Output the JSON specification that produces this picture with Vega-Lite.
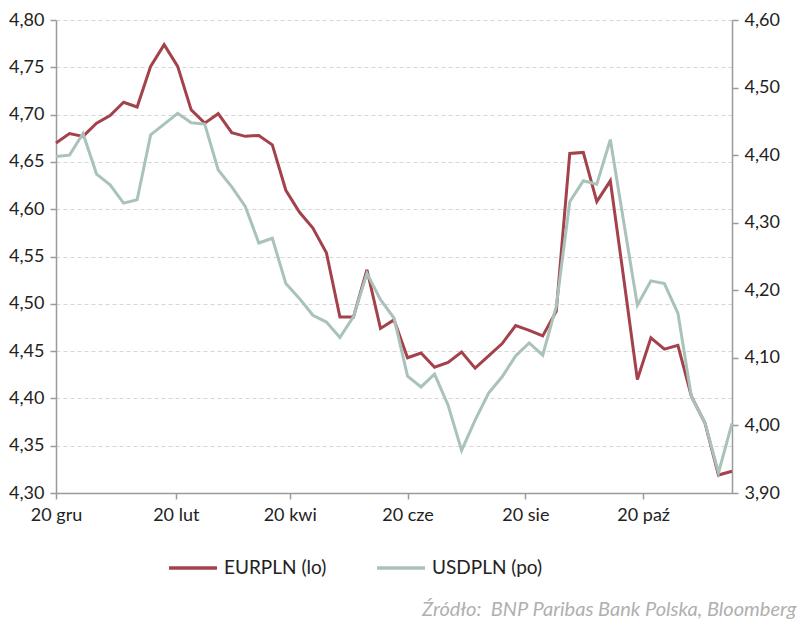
{
  "$schema": "https://vega.github.io/schema/vega-lite/v6.json",
  "width": 676,
  "height": 473,
  "autosize": {"type": "none"},
  "padding": {"left": 56, "top": 20, "right": 68, "bottom": 141},
  "background": "white",
  "config": {
    "font": "Lato",
    "view": {"stroke": null},
    "axis": {
      "labelFont": "Lato",
      "labelFontSize": 18,
      "labelColor": "#222222",
      "domainColor": "#9a9a9a",
      "domainWidth": 1.5,
      "tickColor": "#9a9a9a",
      "tickWidth": 1.5,
      "tickSize": 6,
      "title": null
    },
    "title": {"font": "Lato"}
  },
  "title": {
    "text": "Źródło: \u00a0BNP Paribas Bank Polska, Bloomberg",
    "orient": "bottom",
    "anchor": "end",
    "fontStyle": "italic",
    "fontWeight": "normal",
    "fontSize": 20,
    "color": "#b0b0b0",
    "offset": 50,
    "dx": 17,
    "dy": -28
  },
  "data": {
    "values": [
      {"date": "2021-12-20", "EURPLN": 4.670, "USDPLN": 4.398},
      {"date": "2021-12-27", "EURPLN": 4.680, "USDPLN": 4.400},
      {"date": "2022-01-03", "EURPLN": 4.677, "USDPLN": 4.432},
      {"date": "2022-01-10", "EURPLN": 4.691, "USDPLN": 4.372},
      {"date": "2022-01-17", "EURPLN": 4.699, "USDPLN": 4.356},
      {"date": "2022-01-24", "EURPLN": 4.713, "USDPLN": 4.329},
      {"date": "2022-01-31", "EURPLN": 4.708, "USDPLN": 4.334},
      {"date": "2022-02-07", "EURPLN": 4.751, "USDPLN": 4.430},
      {"date": "2022-02-14", "EURPLN": 4.774, "USDPLN": 4.446},
      {"date": "2022-02-21", "EURPLN": 4.751, "USDPLN": 4.462},
      {"date": "2022-02-28", "EURPLN": 4.705, "USDPLN": 4.448},
      {"date": "2022-03-07", "EURPLN": 4.691, "USDPLN": 4.446},
      {"date": "2022-03-14", "EURPLN": 4.701, "USDPLN": 4.378},
      {"date": "2022-03-21", "EURPLN": 4.681, "USDPLN": 4.353},
      {"date": "2022-03-28", "EURPLN": 4.677, "USDPLN": 4.324},
      {"date": "2022-04-04", "EURPLN": 4.678, "USDPLN": 4.270},
      {"date": "2022-04-11", "EURPLN": 4.668, "USDPLN": 4.277},
      {"date": "2022-04-18", "EURPLN": 4.620, "USDPLN": 4.210},
      {"date": "2022-04-25", "EURPLN": 4.597, "USDPLN": 4.188},
      {"date": "2022-05-02", "EURPLN": 4.580, "USDPLN": 4.163},
      {"date": "2022-05-09", "EURPLN": 4.554, "USDPLN": 4.153},
      {"date": "2022-05-16", "EURPLN": 4.486, "USDPLN": 4.130},
      {"date": "2022-05-23", "EURPLN": 4.486, "USDPLN": 4.161},
      {"date": "2022-05-30", "EURPLN": 4.536, "USDPLN": 4.225},
      {"date": "2022-06-06", "EURPLN": 4.474, "USDPLN": 4.186},
      {"date": "2022-06-13", "EURPLN": 4.483, "USDPLN": 4.159},
      {"date": "2022-06-20", "EURPLN": 4.443, "USDPLN": 4.073},
      {"date": "2022-06-27", "EURPLN": 4.448, "USDPLN": 4.057},
      {"date": "2022-07-04", "EURPLN": 4.433, "USDPLN": 4.076},
      {"date": "2022-07-11", "EURPLN": 4.438, "USDPLN": 4.030},
      {"date": "2022-07-18", "EURPLN": 4.449, "USDPLN": 3.963},
      {"date": "2022-07-25", "EURPLN": 4.432, "USDPLN": 4.008},
      {"date": "2022-08-01", "EURPLN": 4.445, "USDPLN": 4.048},
      {"date": "2022-08-08", "EURPLN": 4.458, "USDPLN": 4.072},
      {"date": "2022-08-15", "EURPLN": 4.477, "USDPLN": 4.103},
      {"date": "2022-08-22", "EURPLN": 4.472, "USDPLN": 4.122},
      {"date": "2022-08-29", "EURPLN": 4.466, "USDPLN": 4.104},
      {"date": "2022-09-05", "EURPLN": 4.492, "USDPLN": 4.176},
      {"date": "2022-09-12", "EURPLN": 4.659, "USDPLN": 4.331},
      {"date": "2022-09-19", "EURPLN": 4.660, "USDPLN": 4.362},
      {"date": "2022-09-26", "EURPLN": 4.608, "USDPLN": 4.357},
      {"date": "2022-10-03", "EURPLN": 4.630, "USDPLN": 4.423},
      {"date": "2022-10-10", "EURPLN": 4.526, "USDPLN": 4.300},
      {"date": "2022-10-17", "EURPLN": 4.420, "USDPLN": 4.178},
      {"date": "2022-10-24", "EURPLN": 4.464, "USDPLN": 4.214},
      {"date": "2022-10-31", "EURPLN": 4.452, "USDPLN": 4.210},
      {"date": "2022-11-07", "EURPLN": 4.456, "USDPLN": 4.166},
      {"date": "2022-11-14", "EURPLN": 4.402, "USDPLN": 4.042},
      {"date": "2022-11-21", "EURPLN": 4.374, "USDPLN": 4.004},
      {"date": "2022-11-28", "EURPLN": 4.319, "USDPLN": 3.930},
      {"date": "2022-12-05", "EURPLN": 4.323, "USDPLN": 4.003}
    ]
  },
  "encoding": {
    "x": {
      "field": "date",
      "type": "temporal",
      "scale": {
        "type": "utc",
        "domain": [
          {"year": 2021, "month": 12, "date": 20, "utc": true},
          {"year": 2022, "month": 12, "date": 5, "utc": true}
        ]
      },
      "axis": {
        "values": [
          {"year": 2021, "month": 12, "date": 20, "utc": true},
          {"year": 2022, "month": 2, "date": 20, "utc": true},
          {"year": 2022, "month": 4, "date": 20, "utc": true},
          {"year": 2022, "month": 6, "date": 20, "utc": true},
          {"year": 2022, "month": 8, "date": 20, "utc": true},
          {"year": 2022, "month": 10, "date": 20, "utc": true}
        ],
        "labelExpr": "utcdate(datum.value) + ' ' + ['sty','lut','mar','kwi','maj','cze','lip','sie','wrz','paź','lis','gru'][utcmonth(datum.value)]",
        "grid": false,
        "labelPadding": 7,
        "labelFlush": false,
        "labelOverlap": false
      }
    }
  },
  "layer": [
    {
      "mark": {"type": "line", "strokeWidth": 3, "interpolate": "linear"},
      "encoding": {
        "y": {
          "field": "EURPLN",
          "type": "quantitative",
          "scale": {"domain": [4.3, 4.8], "nice": false, "zero": false},
          "axis": {
            "orient": "left",
            "values": [4.3, 4.35, 4.4, 4.45, 4.5, 4.55, 4.6, 4.65, 4.7, 4.75, 4.8],
            "labelExpr": "replace(format(datum.value, '.2f'), '.', ',')",
            "grid": true,
            "gridDash": [4, 3],
            "gridColor": "#d6d6d6",
            "gridWidth": 1,
            "labelPadding": 6
          }
        },
        "color": {
          "datum": "EURPLN (lo)",
          "type": "nominal",
          "scale": {
            "domain": ["EURPLN (lo)", "USDPLN (po)"],
            "range": ["#a3424b", "#a9c3ba"]
          },
          "legend": {
            "orient": "none",
            "legendX": 111,
            "legendY": 522,
            "direction": "horizontal",
            "title": null,
            "symbolType": "stroke",
            "symbolSize": 2304,
            "symbolStrokeWidth": 3.5,
            "labelFontSize": 19,
            "labelFont": "Lato",
            "labelColor": "#222222",
            "labelOffset": 5,
            "columnPadding": 43,
            "padding": 0
          }
        }
      }
    },
    {
      "mark": {"type": "line", "strokeWidth": 3, "interpolate": "linear"},
      "encoding": {
        "y": {
          "field": "USDPLN",
          "type": "quantitative",
          "scale": {"domain": [3.9, 4.6], "nice": false, "zero": false},
          "axis": {
            "orient": "right",
            "values": [3.9, 4.0, 4.1, 4.2, 4.3, 4.4, 4.5, 4.6],
            "labelExpr": "replace(format(datum.value, '.2f'), '.', ',')",
            "grid": false,
            "labelPadding": 6
          }
        },
        "color": {"datum": "USDPLN (po)", "type": "nominal"}
      }
    }
  ],
  "resolve": {"scale": {"y": "independent"}}
}
